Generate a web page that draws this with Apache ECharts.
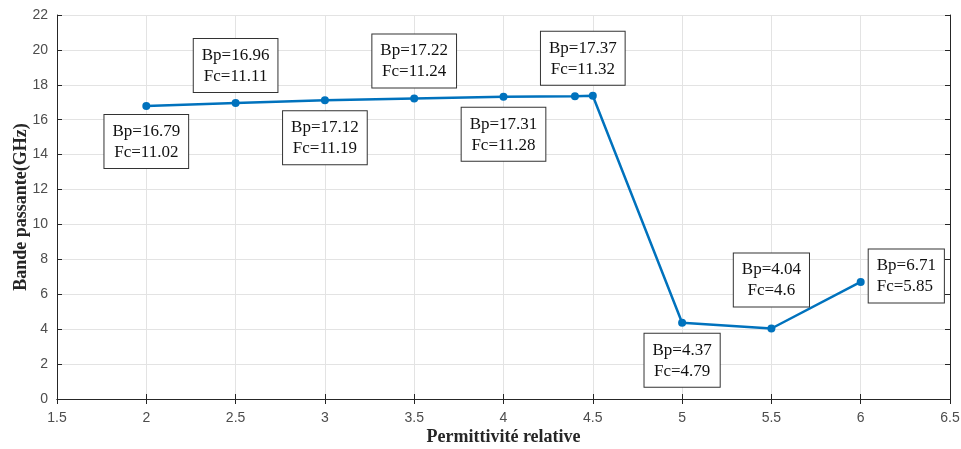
<!DOCTYPE html>
<html><head><meta charset="utf-8">
<script src="https://cdn.jsdelivr.net/npm/echarts@6/dist/echarts.min.js"></script>
<style>html,body{margin:0;padding:0;background:#fff}#c{width:961px;height:449px}</style>
</head><body><div id="c"></div>
<script>
const permittivity = [2, 2.5, 3, 3.5, 4, 4.4, 4.5, 5, 5.5, 6];
const bandePassante = [16.79, 16.96, 17.12, 17.22, 17.31, 17.35, 17.37, 4.37, 4.04, 6.71];
const frequenceCoupure = [11.02, 11.11, 11.19, 11.24, 11.28, null, 11.32, 4.79, 4.6, 5.85];
const bpLabels = ['16.79','16.96','17.12','17.22','17.31',null,'17.37','4.37','4.04','6.71'];
const fcLabels = ['11.02','11.11','11.19','11.24','11.28',null,'11.32','4.79','4.6','5.85'];
const labelPlacement = ['bottom','top','bottom','top','bottom',null,'top','bottom','top','right'];
const labelShift = [[0,-2],[0,0],[0,0],[0,0],[0,0],[0,0],[-10,0],[0,0],[0,-11],[-3,-6]];

const chart = echarts.init(document.getElementById('c'));
const data = permittivity.map((x, i) => {
  const item = { value: [x, bandePassante[i]] };
  if (labelPlacement[i]) {
    item.label = {
      show: true,
      position: labelPlacement[i],
      align: labelPlacement[i] === 'right' ? 'left' : 'center',
      distance: 7,
      formatter: 'Bp=' + bpLabels[i] + '\nFc=' + fcLabels[i]
    };
  }
  return item;
});
const axisColor = '#262626';
const tickLabel = { color: '#4d4d4d', fontFamily: 'Liberation Sans', fontSize: 14 };
const titleStyle = { fontFamily: 'Liberation Serif', fontWeight: 'bold', fontSize: 18, color: '#262626' };
chart.setOption({
  animation: false,
  grid: { left: 57, right: 11, top: 15, bottom: 50, outerBoundsMode: 'none', containLabel: false },
  xAxis: [{
    type: 'value', min: 1.5, max: 6.5, interval: 0.5,
    name: 'Permittivité relative', nameLocation: 'middle', nameGap: 29, nameMoveOverlap: false,
    nameTextStyle: titleStyle,
    axisLine: { show: true, lineStyle: { color: axisColor } },
    axisTick: { show: true, inside: true, length: 5, lineStyle: { color: axisColor } },
    axisLabel: Object.assign({ margin: 12 }, tickLabel),
    splitLine: { show: true, lineStyle: { color: '#e3e3e3' } }
  }, {
    type: 'value', min: 1.5, max: 6.5, interval: 0.5, position: 'top',
    axisLine: { show: true, lineStyle: { color: axisColor } },
    axisTick: { show: true, inside: true, length: 5, lineStyle: { color: axisColor } },
    axisLabel: { show: false }, splitLine: { show: false }
  }],
  yAxis: [{
    type: 'value', min: 0, max: 22, interval: 2,
    name: 'Bande passante(GHz)', nameLocation: 'middle', nameGap: 27, nameMoveOverlap: false,
    nameTextStyle: titleStyle,
    axisLine: { show: true, lineStyle: { color: axisColor } },
    axisTick: { show: true, inside: true, length: 5, lineStyle: { color: axisColor } },
    axisLabel: Object.assign({ margin: 9 }, tickLabel),
    splitLine: { show: true, lineStyle: { color: '#e3e3e3' } }
  }, {
    type: 'value', min: 0, max: 22, interval: 2, position: 'right',
    axisLine: { show: true, lineStyle: { color: axisColor } },
    axisTick: { show: true, inside: true, length: 5, lineStyle: { color: axisColor } },
    axisLabel: { show: false }, splitLine: { show: false }
  }],
  series: [{
    type: 'line',
    data: data,
    symbol: 'circle', symbolSize: 8,
    lineStyle: { color: '#0072BD', width: 2.5 },
    itemStyle: { color: '#0072BD' },
    label: {
      show: false,
      color: '#111', fontFamily: 'Liberation Serif', fontSize: 17, lineHeight: 21,
      backgroundColor: '#fff', borderColor: '#333', borderWidth: 1,
      padding: [6, 8, 5, 8]
    },
    labelLayout: function (p) {
      const s = labelShift[p.dataIndex] || [0, 0];
      return { dx: s[0], dy: s[1] };
    }
  }]
});
</script></body></html>
